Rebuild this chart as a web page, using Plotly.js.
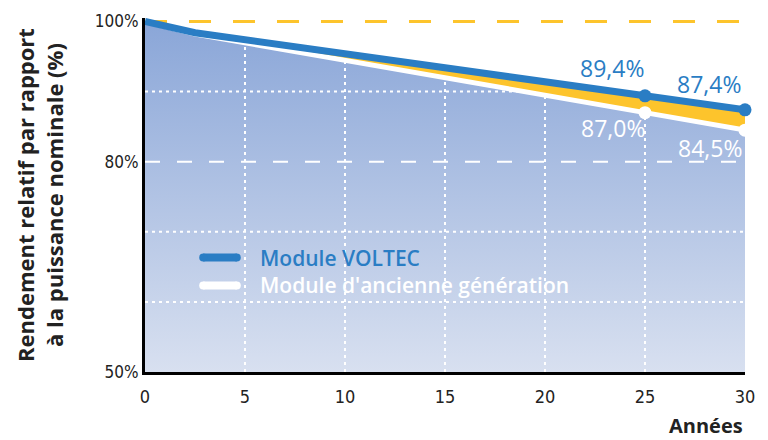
<!DOCTYPE html>
<html>
<head>
<meta charset="utf-8">
<script src="https://cdn.plot.ly/plotly-3.0.1.min.js"></script>
<style>html,body{margin:0;padding:0;background:#fff}#chart{width:768px;height:440px}</style>
</head>
<body>
<div id="chart"></div>
<script>
// Data
const years = [0, 2.5, 25, 30];
const voltec = [100, 98.4, 89.4, 87.4];
const oldGen = [100, 98.2, 87.0, 84.5];
const markerYears = [25, 30];
const voltecMarks = [89.4, 87.4];
const oldMarks = [87.0, 84.5];
const voltecLabels = ['89,4%', '87,4%'];
const oldLabels = ['87,0%', '84,5%'];
const seriesNames = ['Module VOLTEC', "Module d'ancienne génération"];
const xTicks = [0, 5, 10, 15, 20, 25, 30];
const yTicks = [50, 80, 100];
const yTickText = ['50%', '80%', '100%'];
const gridX = [5, 10, 15, 20, 25];
const gridY = [60, 70, 90];

const BLUE = '#2a7dc4';
const YELLOW = '#fdc42c';

function oldAt(x) {
  for (let i = 0; i < years.length - 1; i++) {
    if (x >= years[i] && x <= years[i + 1]) {
      const t = (x - years[i]) / (years[i + 1] - years[i]);
      return oldGen[i] + t * (oldGen[i + 1] - oldGen[i]);
    }
  }
  return oldGen[oldGen.length - 1];
}
function oldXAt(y) {
  for (let i = 0; i < years.length - 1; i++) {
    const a = oldGen[i], b = oldGen[i + 1];
    if (y <= a && y >= b) {
      const t = (a - y) / (a - b);
      return years[i] + t * (years[i + 1] - years[i]);
    }
  }
  return years[years.length - 1];
}

const traces = [];
// gradient area
traces.push({
  x: years, y: oldGen, mode: 'lines', line: {width: 0}, fill: 'tozeroy',
  fillgradient: {type: 'vertical', start: 50, stop: 100,
    colorscale: [[0, '#d8e0f0'], [1, '#8aa6d8']]},
  showlegend: false, hoverinfo: 'skip'
});
// yellow band
traces.push({
  x: years, y: voltec, mode: 'lines', line: {width: 0}, fill: 'tonexty',
  fillcolor: YELLOW, showlegend: false, hoverinfo: 'skip'
});
// grid lines within area
gridX.forEach(gx => traces.push({
  x: [gx, gx], y: [50, oldAt(gx)], mode: 'lines',
  line: {color: '#ffffff', width: 2, dash: '3px,4px'}, showlegend: false, hoverinfo: 'skip'
}));
gridY.forEach(gy => traces.push({
  x: [0, gy >= oldGen[oldGen.length - 1] ? oldXAt(gy) : 30], y: [gy, gy], mode: 'lines',
  line: {color: '#ffffff', width: 2, dash: '3px,4px'}, showlegend: false, hoverinfo: 'skip'
}));
// white line
traces.push({
  x: years, y: oldGen, mode: 'lines', line: {color: '#ffffff', width: 5},
  name: seriesNames[1], showlegend: false
});
// blue line
traces.push({
  x: years, y: voltec, mode: 'lines', line: {color: BLUE, width: 7},
  name: seriesNames[0], showlegend: false
});
traces.push({
  x: markerYears, y: voltecMarks, mode: 'markers', marker: {color: BLUE, size: 13},
  showlegend: false, cliponaxis: false
});
traces.push({
  x: markerYears, y: oldMarks, mode: 'markers', marker: {color: '#ffffff', size: 13},
  showlegend: false, cliponaxis: false
});

const labelFont = {family: 'Open Sans, sans-serif', size: 23, weight: 500};
const annotations = [];
const vShift = [[1, 28], [-2, 26]];
const oShift = [[2, -15], [-1, -18]];
markerYears.forEach((yr, i) => {
  annotations.push({x: yr, y: voltecMarks[i], xref: 'x', yref: 'y', text: voltecLabels[i],
    showarrow: false, xanchor: 'right', yanchor: 'middle', xshift: vShift[i][0], yshift: vShift[i][1],
    font: Object.assign({color: BLUE}, labelFont)});
  annotations.push({x: yr, y: oldMarks[i], xref: 'x', yref: 'y', text: oldLabels[i],
    showarrow: false, xanchor: 'right', yanchor: 'middle', xshift: oShift[i][0], yshift: oShift[i][1],
    font: Object.assign({color: '#ffffff'}, labelFont)});
});
annotations.push({x: 0, y: 0.5, xref: 'paper', yref: 'paper', xshift: -106,
  text: 'Rendement relatif par rapport<br>à la puissance nominale (%)', textangle: -90,
  showarrow: false, xanchor: 'center', yanchor: 'middle',
  font: {family: 'Open Sans, sans-serif', size: 22, weight: 700, color: '#222222'}});
annotations.push({x: 1, y: 0, xref: 'paper', yref: 'paper', yshift: -53, text: 'Années',
  showarrow: false, xanchor: 'right', yanchor: 'middle',
  font: {family: 'Open Sans, sans-serif', size: 20, weight: 700, color: '#222222'}});

// manual legend (paper coords)
const legendItems = [
  {name: seriesNames[0], color: BLUE, y: 0.3234},
  {name: seriesNames[1], color: '#ffffff', y: 0.2444}
];
const shapes = [
  {type: 'line', xref: 'x', yref: 'y', x0: 0, x1: 30, y0: 100, y1: 100, layer: 'below',
    line: {color: YELLOW, width: 3, dash: '22px,22px'}},
  {type: 'line', xref: 'x', yref: 'y', x0: 0, x1: 30, y0: 80, y1: 80, layer: 'above',
    line: {color: '#ffffff', width: 2, dash: '15px,17px'}}
];
legendItems.forEach(it => {
  shapes.push({type: 'line', xref: 'paper', yref: 'paper', x0: 0.097, x1: 0.153, y0: it.y, y1: it.y,
    layer: 'above', line: {color: it.color, width: 8}});
  shapes.push({type: 'circle', xref: 'paper', yref: 'paper', xsizemode: 'pixel', ysizemode: 'pixel',
    xanchor: 0.097, yanchor: it.y, x0: -4, x1: 4, y0: -4, y1: 4, layer: 'above',
    fillcolor: it.color, line: {width: 0}});
  shapes.push({type: 'circle', xref: 'paper', yref: 'paper', xsizemode: 'pixel', ysizemode: 'pixel',
    xanchor: 0.153, yanchor: it.y, x0: -4, x1: 4, y0: -4, y1: 4, layer: 'above',
    fillcolor: it.color, line: {width: 0}});
  annotations.push({x: 0.188, y: it.y, xref: 'paper', yref: 'paper', text: it.name,
    showarrow: false, xanchor: 'left', yanchor: 'middle',
    font: {family: 'Open Sans, sans-serif', size: 21, weight: 600, color: it.color}});
});

const layout = {
  width: 768, height: 440,
  margin: {l: 145, r: 23, t: 18, b: 68},
  paper_bgcolor: '#ffffff', plot_bgcolor: '#ffffff',
  showlegend: false,
  xaxis: {range: [0, 30], tickvals: xTicks, showgrid: false, zeroline: false,
    showline: true, linecolor: '#000000', linewidth: 3, ticks: '', ticklabelstandoff: 6,
    tickfont: {family: 'DejaVu Sans Condensed, sans-serif', size: 18, color: '#222222'}},
  yaxis: {range: [50, 100.5], tickvals: yTicks, ticktext: yTickText, showgrid: false, zeroline: false,
    showline: true, linecolor: '#000000', linewidth: 3, ticks: '',
    tickfont: {family: 'DejaVu Sans Condensed, sans-serif', size: 17, color: '#222222'}},
  shapes: shapes,
  annotations: annotations
};

Plotly.newPlot('chart', traces, layout, {displayModeBar: false, staticPlot: true});
</script>
</body>
</html>
